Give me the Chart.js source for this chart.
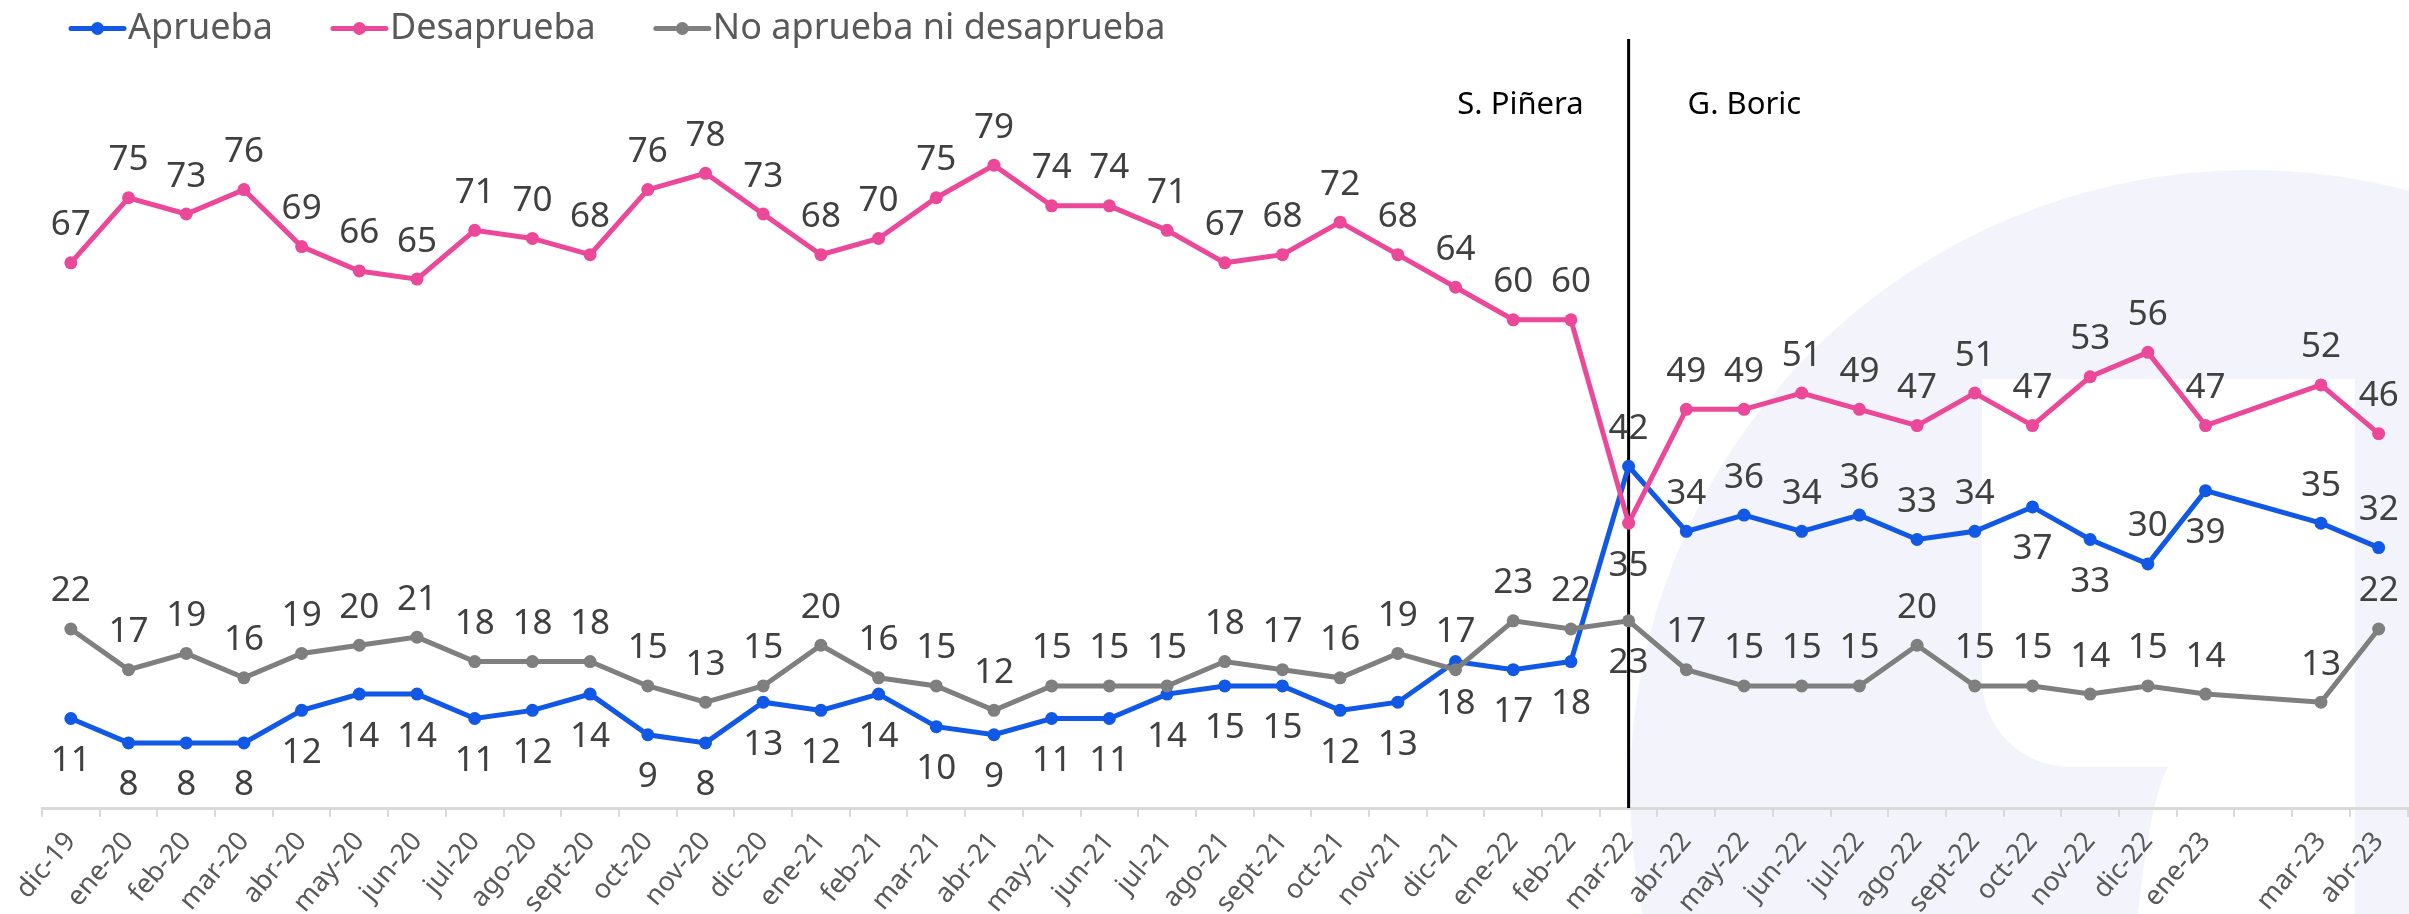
<!DOCTYPE html>
<html lang="es">
<head>
<meta charset="utf-8">
<title>Aprobación presidencial</title>
<script src="https://cdn.jsdelivr.net/npm/chart.js@4.4.1/dist/chart.umd.min.js"></script>
<style>
  html, body { margin: 0; padding: 0; background: #fff; overflow: hidden; }
  #wrap { position: relative; width: 2414px; height: 914px; }
</style>
</head>
<body>
<div id="wrap"><canvas id="chart"></canvas></div>
<script>
const meses = [
  'dic-19', 'ene-20', 'feb-20', 'mar-20', 'abr-20', 'may-20', 'jun-20', 'jul-20', 'ago-20', 'sept-20',
  'oct-20', 'nov-20', 'dic-20', 'ene-21', 'feb-21', 'mar-21', 'abr-21', 'may-21', 'jun-21', 'jul-21',
  'ago-21', 'sept-21', 'oct-21', 'nov-21', 'dic-21', 'ene-22', 'feb-22', 'mar-22', 'abr-22', 'may-22',
  'jun-22', 'jul-22', 'ago-22', 'sept-22', 'oct-22', 'nov-22', 'dic-22', 'ene-23', '', 'mar-23', 'abr-23',
];

const aprueba = [
  11, 8, 8, 8, 12, 14, 14, 11, 12, 14, 9, 8, 13,
  12, 14, 10, 9, 11, 11, 14, 15, 15, 12, 13, 18,
  17, 18, 42, 34, 36, 34, 36, 33, 34, 37, 33, 30,
  39, null, 35, 32,
];

const desaprueba = [
  67, 75, 73, 76, 69, 66, 65, 71, 70, 68, 76, 78, 73,
  68, 70, 75, 79, 74, 74, 71, 67, 68, 72, 68, 64,
  60, 60, 35, 49, 49, 51, 49, 47, 51, 47, 53, 56,
  47, null, 52, 46,
];

const niAprueba = [
  22, 17, 19, 16, 19, 20, 21, 18, 18, 18, 15, 13, 15,
  20, 16, 15, 12, 15, 15, 15, 18, 17, 16, 19, 17,
  23, 22, 23, 17, 15, 15, 15, 20, 15, 15, 14, 15,
  14, null, 13, 22,
];

// months whose value label sits on the other side of the point
const arribaAprueba = ['mar-22', 'abr-22', 'may-22', 'jun-22', 'jul-22', 'ago-22', 'sept-22', 'dic-22', 'mar-23', 'abr-23'];
const abajoDesaprueba = ['mar-22'];
const abajoNi = ['mar-22'];

const cambioGobierno = 'mar-22';

const AZUL = '#1158e6';
const ROSA = '#ec4899';
const GRIS = '#7f7f7f';
const FUENTE = '"Noto Sans", "Open Sans", sans-serif';

// faint logo behind the plot
const fondo = {
  id: 'fondo',
  beforeDraw(chart) {
    const { ctx, width, height } = chart;
    ctx.save();
    ctx.fillStyle = '#fff';
    ctx.fillRect(0, 0, width, height);
    ctx.fillStyle = '#f3f4fb';
    ctx.beginPath();
    ctx.arc(2250, 790, 620, 0, Math.PI * 2);
    ctx.fill();
    ctx.fillStyle = '#fff';
    ctx.beginPath();
    ctx.moveTo(1982, 379);
    ctx.lineTo(2355, 379);
    ctx.lineTo(2355, height);
    ctx.lineTo(2138, height);
    ctx.quadraticCurveTo(2150, 800, 2168, 767);
    ctx.lineTo(2070, 767);
    ctx.arcTo(1982, 767, 1982, 680, 88);
    ctx.closePath();
    ctx.fill();
    ctx.restore();
  },
};

// legend row: line + dot marker, then the series name
const leyenda = {
  id: 'leyenda',
  afterDraw(chart) {
    const { ctx } = chart;
    ctx.save();
    ctx.font = `36px ${FUENTE}`;
    ctx.textBaseline = 'alphabetic';
    let x = 69;
    chart.data.datasets.forEach((ds) => {
      ctx.strokeStyle = ds.borderColor;
      ctx.fillStyle = ds.borderColor;
      ctx.lineWidth = 5;
      ctx.lineCap = 'round';
      ctx.beginPath();
      ctx.moveTo(x + 2, 28.5);
      ctx.lineTo(x + 55, 28.5);
      ctx.stroke();
      ctx.beginPath();
      ctx.arc(x + 28.5, 28.5, 6.5, 0, Math.PI * 2);
      ctx.fill();
      ctx.fillStyle = '#595959';
      ctx.fillText(ds.label, x + 59, 38.5);
      x += 59 + ctx.measureText(ds.label).width + 58;
    });
    ctx.restore();
  },
};

// vertical divider between the two governments
const periodos = {
  id: 'periodos',
  beforeDatasetsDraw(chart) {
    const { ctx, chartArea, scales } = chart;
    const x = scales.x.getPixelForValue(meses.indexOf(cambioGobierno));
    ctx.save();
    ctx.strokeStyle = '#000';
    ctx.lineWidth = 3;
    ctx.beginPath();
    ctx.moveTo(x, scales.y.getPixelForValue(94.5));
    ctx.lineTo(x, chartArea.bottom);
    ctx.stroke();
    ctx.font = `31px ${FUENTE}`;
    ctx.fillStyle = '#000';
    ctx.textAlign = 'right';
    ctx.fillText('S. Piñera', x - 45, 114);
    ctx.textAlign = 'left';
    ctx.fillText('G. Boric', x + 59, 114);
    ctx.restore();
  },
};

// value labels above or below each point
const etiquetas = {
  id: 'etiquetas',
  afterDatasetsDraw(chart) {
    const { ctx } = chart;
    ctx.save();
    ctx.font = `35px ${FUENTE}`;
    ctx.fillStyle = '#404040';
    ctx.textAlign = 'center';
    ctx.textBaseline = 'alphabetic';
    chart.data.datasets.forEach((ds, di) => {
      const meta = chart.getDatasetMeta(di);
      meta.data.forEach((pt, i) => {
        const v = ds.data[i];
        if (v === null) return;
        const arriba = ds.arriba(meses[i]);
        const cy = arriba ? pt.y - 40 : pt.y + 40;
        ctx.fillText(String(v), pt.x, cy + 12.5);
      });
    });
    ctx.restore();
  },
};

const serie = (label, data, color, order, arriba) => ({
  label,
  data,
  borderColor: color,
  backgroundColor: color,
  borderWidth: 5,
  pointRadius: 6.5,
  pointHoverRadius: 6.5,
  pointBorderWidth: 0,
  tension: 0,
  spanGaps: true,
  order,
  arriba,
});

new Chart(document.getElementById('chart'), {
  type: 'line',
  data: {
    labels: meses,
    datasets: [
      serie('Aprueba', aprueba, AZUL, 2, (m) => arribaAprueba.includes(m)),
      serie('Desaprueba', desaprueba, ROSA, 1, (m) => !abajoDesaprueba.includes(m)),
      serie('No aprueba ni desaprueba', niAprueba, GRIS, 0, (m) => !abajoNi.includes(m)),
    ],
  },
  options: {
    responsive: true,
    maintainAspectRatio: false,
    animation: false,
    devicePixelRatio: 1,
    layout: { padding: { left: 42, right: 2, top: 35, bottom: 0 } },
    plugins: {
      legend: { display: false },
      tooltip: { enabled: false },
    },
    scales: {
      x: {
        offset: true,
        grid: {
          offset: true,
          drawOnChartArea: false,
          drawTicks: true,
          tickLength: 9,
          color: '#d9d9d9',
          lineWidth: 2,
        },
        border: { display: true, color: '#d9d9d9', width: 3 },
        ticks: {
          autoSkip: false,
          maxRotation: 50,
          minRotation: 50,
          padding: 9,
          color: '#595959',
          font: { family: FUENTE, size: 27 },
        },
        afterFit: (scale) => {
          scale.height = 106;
        },
      },
      y: {
        display: false,
        min: 0,
        max: 95,
      },
    },
  },
  plugins: [fondo, periodos, etiquetas, leyenda],
});
</script>
</body>
</html>
